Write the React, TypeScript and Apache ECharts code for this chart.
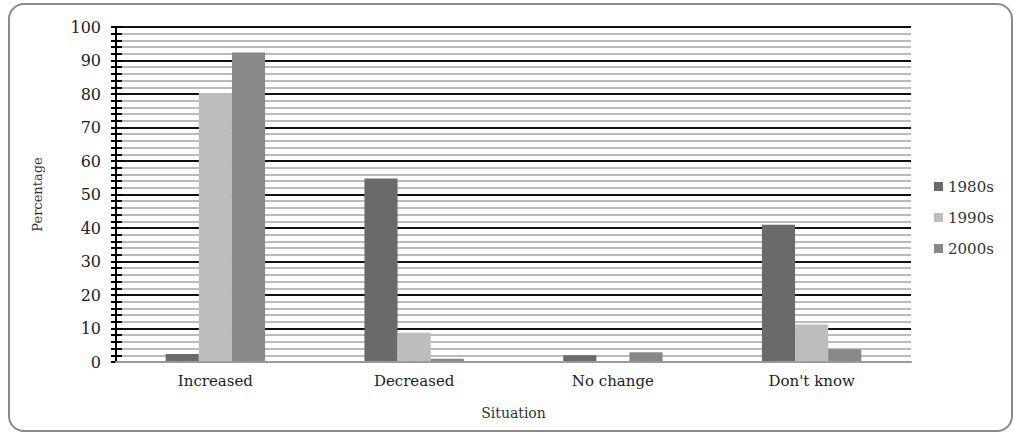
import React, { useEffect, useRef } from "react";
import * as echarts from "echarts";

const categories = ["Increased", "Decreased", "No change", "Don't know"];
const seriesNames = ["1980s", "1990s", "2000s"];
const values1980s = [2.4, 54.8, 2.0, 41.0];
const values1990s = [80.3, 8.7, 0, 11.2];
const values2000s = [92.4, 1.0, 2.9, 3.8];
const seriesColors = ["#6a6a6a", "#bdbdbd", "#888888"];

const FONT = "'DejaVu Serif', 'Liberation Serif', serif";

export default function App() {
  const ref = useRef<HTMLDivElement>(null);

  useEffect(() => {
    document.body.style.margin = "0";
    if (!ref.current) return;
    const chart = echarts.init(ref.current, null, { renderer: "svg" });
    const data = [values1980s, values1990s, values2000s];

    chart.setOption({
      animation: false,
      backgroundColor: "#ffffff",
      textStyle: { fontFamily: FONT },
      grid: { left: 116, right: 103, top: 27, bottom: 71, containLabel: false },
      legend: {
        orient: "vertical",
        left: 929,
        top: 174,
        itemWidth: 9,
        itemHeight: 9,
        itemGap: 16,
        icon: "rect",
        data: seriesNames,
        textStyle: { fontFamily: FONT, fontSize: 15, color: "#333" },
      },
      xAxis: {
        type: "category",
        data: categories,
        name: "Situation",
        nameLocation: "middle",
        nameGap: 44,
        nameTextStyle: { fontFamily: FONT, fontSize: 14, color: "#333" },
        axisLine: { show: true, lineStyle: { color: "#9a9a9a", width: 2 } },
        axisTick: { show: false },
        axisLabel: { fontFamily: FONT, fontSize: 15, color: "#222", margin: 11 },
        z: 5,
      },
      yAxis: [
        {
          type: "value",
          min: 0,
          max: 100,
          interval: 10,
          name: "Percentage",
          nameLocation: "middle",
          nameRotate: 90,
          nameGap: 72,
          nameTextStyle: { fontFamily: FONT, fontSize: 13, color: "#333" },
          axisLine: { show: true, lineStyle: { color: "#000", width: 2 } },
          axisTick: { show: true, length: 5, lineStyle: { color: "#000", width: 2 } },
          minorTick: { show: true, splitNumber: 5, length: 5, lineStyle: { color: "#000", width: 2 } },
          axisLabel: { fontFamily: FONT, fontSize: 16, color: "#222", margin: 15 },
          splitLine: { show: true, lineStyle: { color: "#111", width: 2 } },
          minorSplitLine: { show: true, lineStyle: { color: "#bbbbbb", width: 2 } },
        },
        {
          type: "value",
          min: 0,
          max: 100,
          interval: 10,
          position: "left",
          axisLine: { show: false },
          axisTick: { show: true, inside: true, length: 6, lineStyle: { color: "#000", width: 2 } },
          minorTick: { show: true, splitNumber: 5, length: 6, lineStyle: { color: "#000", width: 2 } },
          axisLabel: { show: false },
          splitLine: { show: false },
          minorSplitLine: { show: false },
        },
      ],
      series: seriesNames.map((name, i) => ({
        name,
        type: "bar",
        data: data[i],
        barGap: "0%",
        barCategoryGap: "50%",
        itemStyle: { color: seriesColors[i] },
      })),
      graphic: [
        {
          type: "rect",
          shape: { x: 9, y: 4, width: 1003, height: 427, r: 15 },
          style: { fill: "none", stroke: "#8a8a8a", lineWidth: 2 },
          silent: true,
          z: 100,
        },
      ],
    });

    return () => chart.dispose();
  }, []);

  return <div ref={ref} style={{ width: 1014, height: 433 }} />;
}
